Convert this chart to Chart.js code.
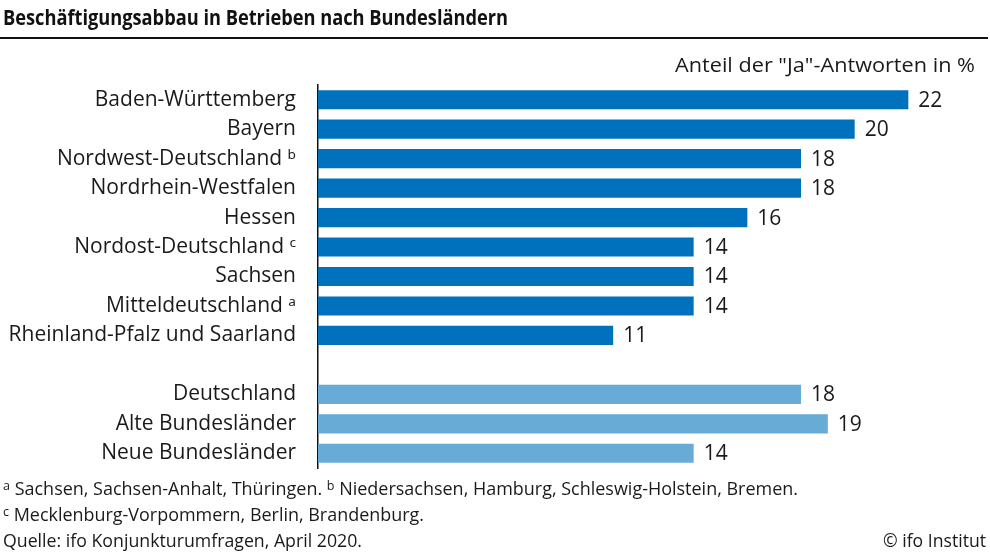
<!DOCTYPE html>
<html>
<head>
<meta charset="utf-8">
<script src="https://cdn.jsdelivr.net/npm/chart.js@4.4.0/dist/chart.umd.min.js"></script>
<style>
html,body{margin:0;padding:0;background:#fff;}
#wrap{position:relative;width:990px;height:557px;overflow:hidden;font-family:"Open Sans","Noto Sans",sans-serif;color:#1a1a1a;}
#c{position:absolute;left:0;top:0;}
.t{position:absolute;white-space:nowrap;line-height:1;transform-origin:0 0;}
.t sup{font-size:0.7em;vertical-align:0.4em;line-height:0;}
</style>
</head>
<body>
<div id="wrap">
  <canvas id="c" width="990" height="557"></canvas>
  <div class="t" id="title" style="left:3px;top:7px;font-size:20.5px;font-weight:700;color:#111;">Beschäftigungsabbau in Betrieben nach Bundesländern</div>
  <div style="position:absolute;left:0;top:36.5px;width:988px;height:2.5px;background:#111;"></div>
  <div class="t" id="axt" style="left:675px;top:55px;font-size:19.5px;">Anteil der "Ja"-Antworten in %</div>
  <div class="t" id="f1" style="left:3px;top:479px;font-size:18px;"><sup>a</sup> Sachsen, Sachsen-Anhalt, Thüringen. <sup>b</sup> Niedersachsen, Hamburg, Schleswig-Holstein, Bremen.</div>
  <div class="t" id="f2" style="left:3px;top:505px;font-size:18px;"><sup>c</sup> Mecklenburg-Vorpommern, Berlin, Brandenburg.</div>
  <div class="t" id="f3" style="left:3px;top:531px;font-size:18px;">Quelle: ifo Konjunkturumfragen, April 2020.</div>
  <div class="t" id="f4" style="left:883px;top:531px;font-size:18px;">© ifo Institut</div>
</div>
<script>
// ---- data ----
const categories = [
  "Baden-Württemberg",
  "Bayern",
  "Nordwest-Deutschland ᵇ",
  "Nordrhein-Westfalen",
  "Hessen",
  "Nordost-Deutschland ᶜ",
  "Sachsen",
  "Mitteldeutschland ᵃ",
  "Rheinland-Pfalz und Saarland",
  "",
  "Deutschland",
  "Alte Bundesländer",
  "Neue Bundesländer"
];
const values = [22, 20, 18, 18, 16, 14, 14, 14, 11, null, 18, 19, 14];
const summaryRows = ["Deutschland", "Alte Bundesländer", "Neue Bundesländer"];

// ---- styles ----
const DARK = "#0071bc";
const LIGHT = "#67abd6";
const FONT = "'Open Sans','Noto Sans','DejaVu Sans',sans-serif";
const colors = categories.map(c => summaryRows.includes(c) ? LIGHT : DARK);

const valueLabels = {
  id: "valueLabels",
  afterDatasetsDraw(chart) {
    const ctx = chart.ctx;
    const meta = chart.getDatasetMeta(0);
    ctx.save();
    ctx.font = "21px " + FONT;
    ctx.fillStyle = "#1a1a1a";
    ctx.textAlign = "left";
    ctx.textBaseline = "middle";
    meta.data.forEach((bar, i) => {
      const v = values[i];
      if (v === null || v === undefined) return;
      ctx.fillText(String(v), bar.x + 10, bar.y + 1);
    });
    ctx.restore();
  }
};

new Chart(document.getElementById("c"), {
  type: "bar",
  data: {
    labels: categories,
    datasets: [{
      data: values,
      backgroundColor: colors,
      borderWidth: 0,
      barPercentage: 0.65,
      categoryPercentage: 1
    }]
  },
  options: {
    indexAxis: "y",
    responsive: false,
    animation: false,
    devicePixelRatio: 1,
    layout: { padding: { top: 85, bottom: 89, right: 28, left: 0 } },
    plugins: { legend: { display: false }, tooltip: { enabled: false } },
    scales: {
      x: { display: false, min: 0, max: 24 },
      y: {
        grid: { display: false, drawTicks: false },
        border: { display: true, color: "#111", width: 1.5 },
        ticks: { padding: 22, color: "#1a1a1a", font: { family: FONT, size: 21 } },
        afterFit(scale) { scale.width = 318; }
      }
    }
  },
  plugins: [valueLabels]
});

// fit header/footer text widths to the reference extents
function fit(id, left, right) {
  const el = document.getElementById(id);
  const w = el.getBoundingClientRect().width;
  if (w > 0) el.style.transform = "scaleX(" + ((right - left) / w) + ")";
}
fit("title", 3, 508);
fit("axt", 675, 975);
fit("f1", 3, 798);
fit("f2", 3, 424);
fit("f3", 3, 362);
fit("f4", 883, 986);
</script>
</body>
</html>
